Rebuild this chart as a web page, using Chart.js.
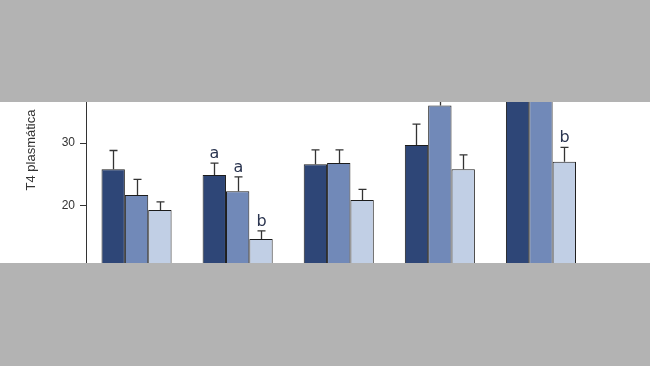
<!DOCTYPE html>
<html>
<head>
<meta charset="utf-8">
<script src="https://cdn.jsdelivr.net/npm/chart.js@4"></script>
<style>
  html, body { margin: 0; padding: 0; background: #b3b3b3; }
  body { width: 650px; height: 366px; position: relative; overflow: hidden; }
  #band { position: absolute; left: 0; top: 102px; width: 650px; height: 161px; overflow: hidden; background: #fff; }
  #inner { position: absolute; left: 0; top: -102px; width: 650px; height: 366px; }
</style>
</head>
<body>
<div id="band"><div id="inner"><canvas id="chart"></canvas></div></div>
<script>
// data
const groups = ['G1', 'G2', 'G3', 'G4', 'G5'];
const seriesA = [25.8, 24.9, 26.6, 29.7, 38.5];
const seriesB = [21.7, 22.3, 26.8, 36.0, 39.5];
const seriesC = [19.3, 14.7, 20.9, 25.8, 27.0];
const errA = [3.0, 1.9, 2.3, 3.3, 2.5];
const errB = [2.5, 2.3, 2.1, 1.7, 2.5];
const errC = [1.3, 1.3, 1.7, 2.3, 2.3];
const lettersA = ['', 'a', '', '', ''];
const lettersB = ['', 'a', '', '', ''];
const lettersC = ['', 'b', '', '', 'b'];
const yTicks = [20, 30];
const yTitle = 'T4 plasmática';

const errors = [errA, errB, errC];
const letters = [lettersA, lettersB, lettersC];

const errorBarPlugin = {
  id: 'errorBars',
  afterDatasetsDraw(chart) {
    const ctx = chart.ctx;
    const y = chart.scales.y;
    ctx.save();
    chart.data.datasets.forEach((ds, i) => {
      const meta = chart.getDatasetMeta(i);
      meta.data.forEach((bar, j) => {
        const top = y.getPixelForValue(ds.data[j] + errors[i][j]);
        const x = Math.round(bar.x) + 0.5;
        ctx.strokeStyle = '#333';
        ctx.lineWidth = 1.3;
        ctx.beginPath();
        ctx.moveTo(x, bar.y);
        ctx.lineTo(x, top);
        ctx.moveTo(x - 4, top);
        ctx.lineTo(x + 4, top);
        ctx.stroke();
        if (letters[i][j]) {
          ctx.fillStyle = '#2b3550';
          ctx.font = '16px "DejaVu Sans", sans-serif';
          ctx.textAlign = 'center';
          ctx.textBaseline = 'alphabetic';
          ctx.fillText(letters[i][j], x, top - 5);
        }
      });
    });
    // rotated y axis title
    ctx.translate(31, 150);
    ctx.rotate(-Math.PI / 2);
    ctx.fillStyle = '#333';
    ctx.font = '13px "Liberation Sans", Arial, sans-serif';
    ctx.textAlign = 'center';
    ctx.textBaseline = 'middle';
    ctx.fillText(yTitle, 0, 0);
    ctx.restore();
  }
};

new Chart(document.getElementById('chart'), {
  type: 'bar',
  data: {
    labels: groups,
    datasets: [
      { data: seriesA, backgroundColor: '#2e4677' },
      { data: seriesB, backgroundColor: '#7189b8' },
      { data: seriesC, backgroundColor: '#c1cfe5' }
    ].map(d => Object.assign(d, {
      borderColor: '#1c1c1c',
      borderWidth: 1,
      borderSkipped: false,
      barPercentage: 1,
      categoryPercentage: 0.693
    }))
  },
  options: {
    responsive: true,
    maintainAspectRatio: false,
    animation: false,
    layout: { padding: { top: 17.6, bottom: 34.9, left: 0, right: 58.5 } },
    plugins: { legend: { display: false }, tooltip: { enabled: false } },
    scales: {
      x: { display: false },
      y: {
        min: 0,
        max: 50,
        afterBuildTicks: scale => { scale.ticks = yTicks.map(v => ({ value: v })); },
        afterFit: scale => { scale.width = 86; },
        grid: { drawOnChartArea: false, drawTicks: true, tickLength: 6, color: '#333' },
        border: { display: true, color: '#333', width: 1 },
        ticks: { padding: 5, color: '#333', font: { size: 12, family: '"Liberation Sans", Arial, sans-serif' } }
      }
    }
  },
  plugins: [errorBarPlugin]
});
</script>
</body>
</html>
